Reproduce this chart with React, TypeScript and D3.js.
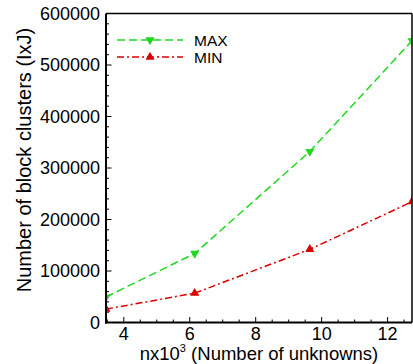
import { useEffect } from 'react';
import * as d3 from 'd3';

const X_VALUES = [3.46, 6.15, 9.64, 12.74];
const MAX_VALUES = [49500, 134000, 332000, 547000];
const MIN_VALUES = [26000, 57000, 142000, 234500];
const X_TICKS = [4, 6, 8, 10, 12];
const Y_TICKS = [0, 100000, 200000, 300000, 400000, 500000, 600000];

const W = 413;
const H = 364;
const margin = { top: 13.5, right: 1, bottom: 41.5, left: 106 };
const GREEN = '#1fd81f';
const RED = '#d90000';
const FONT = '"Liberation Sans", Arial, Helvetica, sans-serif';

export default function App() {
  useEffect(() => {
    document.body.style.margin = '0';
  }, []);

  const innerW = W - margin.left - margin.right;
  const innerH = H - margin.top - margin.bottom;
  const x = d3.scaleLinear().domain([3.46, 12.74]).range([0, innerW]);
  const y = d3.scaleLinear().domain([0, 600000]).range([innerH, 0]);

  const xMinor = d3.range(3.5, 12.75, 0.5).filter(v => !X_TICKS.includes(v));
  const yMinor = d3.range(0, 600001, 20000).filter(v => v % 100000 !== 0);

  const maxPts = X_VALUES.map((v, i) => [v, MAX_VALUES[i]] as [number, number]);
  const minPts = X_VALUES.map((v, i) => [v, MIN_VALUES[i]] as [number, number]);
  const line = d3.line<[number, number]>().x(d => x(d[0])).y(d => y(d[1]));

  const tri = d3.symbol().type(d3.symbolTriangle).size(36)()!;

  return (
    <svg width={W} height={H} style={{ display: 'block', background: '#fff' }} fontFamily={FONT}>
      <g transform={`translate(${margin.left},${margin.top})`}>
        <defs>
          <clipPath id="plot">
            <rect x={0} y={0} width={innerW} height={innerH} />
          </clipPath>
        </defs>
        {/* minor ticks */}
        {xMinor.map(v => (
          <line key={'xm' + v} x1={x(v)} x2={x(v)} y1={innerH} y2={innerH - 3} stroke="#000" strokeWidth={1} />
        ))}
        {X_TICKS.map(v => (
          <line key={'xM' + v} x1={x(v)} x2={x(v)} y1={innerH} y2={innerH - 5.5} stroke="#000" strokeWidth={1} />
        ))}
        {yMinor.map(v => (
          <line key={'ym' + v} x1={0} x2={3} y1={y(v)} y2={y(v)} stroke="#000" strokeWidth={1} />
        ))}
        {Y_TICKS.map(v => (
          <line key={'yM' + v} x1={0} x2={5.5} y1={y(v)} y2={y(v)} stroke="#000" strokeWidth={1} />
        ))}

        {/* series */}
        <g clipPath="url(#plot)">
          <path d={line(maxPts)!} fill="none" stroke={GREEN} strokeWidth={1.5} strokeDasharray="8,4" />
          <path d={line(minPts)!} fill="none" stroke={RED} strokeWidth={1.5} strokeDasharray="7,3,2,3" />
          {maxPts.map((d, i) => (
            <path key={'mx' + i} d={tri} transform={`translate(${x(d[0])},${y(d[1])}) rotate(180)`} fill={GREEN} />
          ))}
          {minPts.map((d, i) => (
            <path key={'mn' + i} d={tri} transform={`translate(${x(d[0])},${y(d[1])})`} fill={RED} />
          ))}
        </g>

        {/* frame */}
        <line x1={0} x2={innerW} y1={0} y2={0} stroke="#000" strokeWidth={1.5} />
        <line x1={innerW} x2={innerW} y1={0} y2={innerH} stroke="#000" strokeWidth={1.5} />
        <line x1={0} x2={0} y1={0} y2={innerH + 1} stroke="#000" strokeWidth={2} />
        <line x1={-1} x2={innerW} y1={innerH} y2={innerH} stroke="#000" strokeWidth={2} />

        {/* tick labels */}
        {Y_TICKS.map(v => (
          <text key={'yl' + v} x={-6} y={y(v)} dy="0.36em" textAnchor="end" fontSize={18} fill="#000">
            {v}
          </text>
        ))}
        {X_TICKS.map(v => (
          <text key={'xl' + v} x={x(v)} y={innerH + 17} textAnchor="middle" fontSize={18} fill="#000">
            {v}
          </text>
        ))}

        {/* legend */}
        <g transform="translate(11,26.5)">
          <line x1={0} x2={66} y1={0} y2={0} stroke={GREEN} strokeWidth={1.5} strokeDasharray="8,4" />
          <path d={tri} transform="translate(33,0) rotate(180)" fill={GREEN} />
          <text x={77} y={0} dy="0.36em" fontSize={15.5}>MAX</text>
          <line x1={0} x2={66} y1={17} y2={17} stroke={RED} strokeWidth={1.5} strokeDasharray="7,3,2,3" />
          <path d={tri} transform="translate(33,17)" fill={RED} />
          <text x={77} y={17} dy="0.36em" fontSize={15.5}>MIN</text>
        </g>
      </g>

      {/* axis titles */}
      <text x={259} y={360} textAnchor="middle" fontSize={18.5} fill="#000">
        nx10<tspan dy={-8} fontSize={11}>3</tspan>
        <tspan dy={8}> (Number of unknowns)</tspan>
      </text>
      <text transform="translate(31,160) rotate(-90)" textAnchor="middle" fontSize={20} fill="#000">
        Number of block clusters (IxJ)
      </text>
    </svg>
  );
}
